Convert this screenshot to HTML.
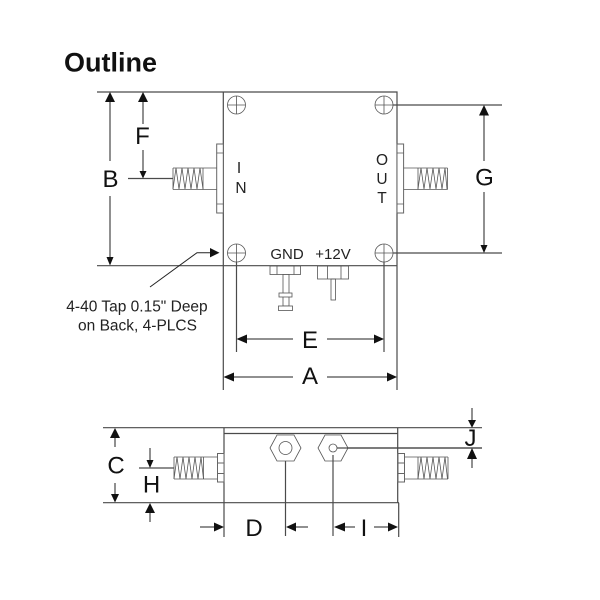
<!DOCTYPE html>
<html>
<head>
<meta charset="utf-8">
<style>
html,body{margin:0;padding:0;background:#fff;width:600px;height:600px;overflow:hidden}
svg{display:block;font-family:"Liberation Sans",sans-serif}
.l{stroke:#4a4a4a;stroke-width:1.2;fill:none}
.d{stroke:#222;stroke-width:1;fill:none}
.t{stroke:#555;stroke-width:.8;fill:none}
.p{stroke:#666;stroke-width:1;fill:#fff}
.a{fill:#111;stroke:none}
.L{font-size:24px;fill:#111;text-anchor:middle}
.s{font-size:15px;fill:#222;text-anchor:middle}
.m{font-size:15.5px;fill:#222;text-anchor:middle}
</style>
</head>
<body>
<svg width="600" height="600" viewBox="0 0 600 600" xmlns="http://www.w3.org/2000/svg">
<rect width="600" height="600" fill="#fff"/>
<text x="64" y="71.5" font-size="27" font-weight="bold" fill="#111">Outline</text>

<!-- Top view -->
<path class="l" d="M97 92H397V265.7H97M223.3 92V390M397 92V390"/>
<path class="l" d="M393 105H502M393 253H502M128 178.5H173"/>
<path class="l" d="M236.5 262V352M384 262V352"/>
<g class="t" stroke-width="1">
<circle cx="236.5" cy="105" r="9"/><path d="M227.5 105H245.5M236.5 96V114"/>
<circle cx="384" cy="105" r="9"/><path d="M375 105H393M384 96V114"/>
<circle cx="236.5" cy="253" r="9"/><path d="M227.5 253H245.5M236.5 244V262"/>
<circle cx="384" cy="253" r="9"/><path d="M375 253H393M384 244V262"/>
</g>

<!-- Left connector -->
<rect class="p" x="216.7" y="144" width="6.6" height="69"/>
<path class="t" d="M216.7 153H223.3M216.7 204H223.3"/>
<path class="t" d="M173 168H216.7M173 189.5H216.7M173 168V189.5M203 168V189.5"/>
<path class="t" d="M173 189L176 168L179 189L182 168L185 189L188 168L191 189L194 168L197 189L200 168L203 189"/>
<!-- Right connector -->
<rect class="p" x="397" y="144" width="6.6" height="69"/>
<path class="t" d="M397 153H403.6M397 204H403.6"/>
<path class="t" d="M403.6 168H447.5M403.6 189.5H447.5M447.5 168V189.5M418 168V189.5"/>
<path class="t" d="M418 189L421 168L424 189L427 168L430 189L433 168L436 189L439 168L442 189L445 168L447 189"/>

<!-- GND / +12V -->
<g class="t" stroke-width="1">
<rect x="270" y="266" width="30.5" height="8.5"/><path d="M277 266V274.5M294 266V274.5"/>
<rect x="283" y="274.5" width="6" height="31.5" fill="#fff"/>
<rect x="279" y="293" width="13" height="4" fill="#fff"/>
<rect x="278.5" y="306" width="14" height="4.5" fill="#fff"/>
<rect x="317.5" y="266" width="31" height="13"/><path d="M327.5 266V279M341 266V279"/>
<rect x="331" y="279" width="4.5" height="21"/>
</g>

<!-- B -->
<path class="d" d="M110 94V161M110 196V263"/>
<path class="a" d="M110 92L105 102H115Z M110 265.5L106.5 257H113.5Z"/>
<text class="L" x="110.5" y="187">B</text>
<!-- F -->
<path class="d" d="M143 94V124M143 150V176"/>
<path class="a" d="M143 92L138 102H148Z M143 178.5L139.5 171H146.5Z"/>
<text class="L" x="142.5" y="144">F</text>
<!-- G -->
<path class="d" d="M484 107V161M484 192V251"/>
<path class="a" d="M484 105L479 115.5H489Z M484 253L480.5 245H487.5Z"/>
<text class="L" x="484.5" y="185.5">G</text>
<!-- E -->
<path class="d" d="M238 339H293M327 339H383"/>
<path class="a" d="M236.5 339L247 334.5V343.5Z M384 339L374 334.5V343.5Z"/>
<text class="L" x="310" y="348">E</text>
<!-- A -->
<path class="d" d="M225 377H293M327 377H395"/>
<path class="a" d="M223.5 377L234 372.5V381.5Z M397 377L387 372.5V381.5Z"/>
<text class="L" x="310" y="384">A</text>

<text class="s" x="287" y="259">GND</text>
<text class="s" x="333" y="259">+12V</text>
<g font-size="15.5" fill="#222" text-anchor="middle">
<text x="239" y="173">I</text>
<text x="241" y="193">N</text>
<text x="382" y="165">O</text>
<text x="382" y="184">U</text>
<text x="382" y="203">T</text>
</g>

<!-- Leader -->
<path class="d" d="M150 287L197 252.7H212"/>
<path class="a" d="M219.5 252.7L210 248V257.4Z"/>
<text class="m" x="137" y="311.5">4-40 Tap 0.15" Deep</text>
<text class="m" x="137.5" y="330.5">on Back, 4-PLCS</text>

<!-- Side view -->
<path class="l" d="M103 427.7H482M224 433.5H397.7M103 502.7H399M224 427.7V537M397.7 427.7V502.7M398.7 502.7V537"/>
<path class="l" d="M333 448H482M139 468H174"/>
<g class="t" stroke-width="1">
<path d="M270 448L277 435H294L301 448L294 461H277Z" fill="#fff"/>
<circle cx="285.5" cy="448" r="6.5"/>
<path d="M318 448L325 435H341L348 448L341 461H325Z" fill="#fff"/>
<circle cx="333" cy="448" r="4"/>
</g>
<path class="l" d="M285.5 461V536M333 455V536M337 448H482"/>

<!-- Left side connector -->
<path class="t" d="M174 457H217.5M174 479H217.5M174 457V479M203.5 457V479"/>
<path class="t" d="M174 479L177 457L180 479L183 457L186 479L189 457L192 479L195 457L198 479L201 457L203.5 479"/>
<path class="p" d="M217.5 453.5H224V482H217.5Z M217.5 463H224M217.5 473.5H224"/>
<!-- Right side connector -->
<path class="t" d="M404.5 457H448M404.5 479H448M448 457V479M418 457V479"/>
<path class="t" d="M418 479L421 457L424 479L427 457L430 479L433 457L436 479L439 457L442 479L445 457L447.5 479"/>
<path class="p" d="M398 453.5H404.5V482H398Z M398 463H404.5M398 473.5H404.5"/>

<!-- C -->
<path class="d" d="M115 430V447M115 483V500"/>
<path class="a" d="M115 428L110 438H120Z M115 502.5L111 494H119Z"/>
<text class="L" x="116" y="473.5">C</text>
<!-- H -->
<path class="d" d="M150 448V466M150 505V522"/>
<path class="a" d="M150 468L146.5 460H153.5Z M150 503L145 513H155Z"/>
<text class="L" x="151.5" y="492.5">H</text>
<!-- D -->
<path class="d" d="M200 527H222M287 527H308"/>
<path class="a" d="M224 527L214 522.5V531.5Z M286 527L296 522.5V531.5Z"/>
<text class="L" x="254" y="536">D</text>
<!-- I -->
<path class="d" d="M335 527H355M374 527H396"/>
<path class="a" d="M334 527L345 522.5V531.5Z M398 527L388 522.5V531.5Z"/>
<text class="L" x="364" y="536">I</text>
<!-- J -->
<path class="d" d="M472 408V426M472 450V468"/>
<path class="a" d="M472 427.7L468 420H476Z M472 448L467 459H477Z"/>
<text class="L" x="470.5" y="446">J</text>
</svg>
</body>
</html>
